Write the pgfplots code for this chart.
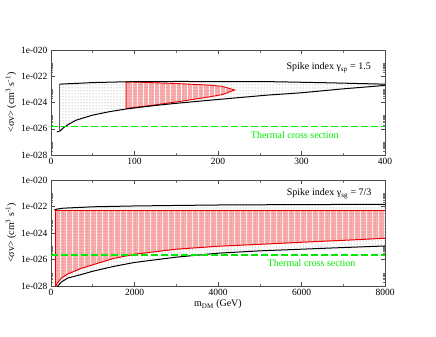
\documentclass[border=0pt]{standalone}
\usepackage{fontspec}
\setmainfont{Liberation Serif}
\usepackage{pgfplots}
\pgfplotsset{compat=1.18}
\usetikzlibrary{patterns,patterns.meta}
\definecolor{thermal}{RGB}{0,235,0}
\definecolor{pinkfill}{RGB}{255,172,172}
\definecolor{redline}{RGB}{235,0,0}

\pgfplotsset{
    tick align=inside, tick pos=both,
    major tick length=4pt, minor tick length=2.5pt,
    every tick/.style={black!70, line width=0.5pt},
    every minor tick/.append style={black!55},
    axis line style={black!70, line width=0.6pt},
    ticklabel style={font=\fontsize{9.5}{10}\selectfont},
    label style={font=\fontsize{10}{11}\selectfont},
    /pgf/number format/1000 sep={},
}

\begin{document}
\begin{tikzpicture}
\path[use as bounding box] (0,-337pt) rectangle (436pt,0);

% upper panel
\begin{axis}[anchor=south west, at={(51pt,-155pt)}, scale only axis, width=334pt, height=105pt,
    ymode=log, ymin=1e-28, ymax=1e-20,
    ytick={1e-28,1e-26,1e-24,1e-22,1e-20},
    yticklabels={1e-028,1e-026,1e-024,1e-022,1e-020},
    minor ytick={2e-28,3e-28,4e-28,5e-28,6e-28,7e-28,8e-28,9e-28,1e-27,
                 2e-26,3e-26,4e-26,5e-26,6e-26,7e-26,8e-26,9e-26,1e-25,
                 2e-24,3e-24,4e-24,5e-24,6e-24,7e-24,8e-24,9e-24,1e-23,
                 2e-22,3e-22,4e-22,5e-22,6e-22,7e-22,8e-22,9e-22,1e-21},
    xmin=0, xmax=400, xtick={0,100,200,300,400}, minor xtick={50,150,250,350},
    xticklabels={0,100,200,300,400},
    ylabel={<σv> (cm\textsuperscript{3} s\textsuperscript{-1})},
    ylabel style={yshift=-2pt}]
\addplot[draw=none, fill=pinkfill, postaction={pattern={Lines[angle=90, distance=5.5pt, line width=0.8pt]}, pattern color=white}]
  coordinates {(90,3.5e-25)(120,6e-25)(150,1.1e-24)(190,2.7e-24)(205,4e-24)(220,9e-24)
               (205,1.7e-23)(190,2.1e-23)(150,2.8e-23)(90,3.8e-23)} -- cycle;
\addplot[draw=none, pattern=dots, pattern color=black!45]
  coordinates {(10,6e-27)(15,1.2e-26)(20,2e-26)(30,4.5e-26)(50,1.1e-25)(70,2e-25)(90,3.2e-25)
               (120,5.5e-25)(150,8.7e-25)(200,1.7e-24)(260,3.7e-24)(300,5.5e-24)(350,1.1e-23)(400,2e-23)
               (400,2.5e-23)(330,3.2e-23)(260,3.9e-23)(150,4e-23)(90,3.8e-23)(50,3.3e-23)(10,2.5e-23)} -- cycle;
\addplot[redline, line width=0.9pt]
  coordinates {(90,3.5e-25)(120,6e-25)(150,1.1e-24)(190,2.7e-24)(205,4e-24)(220,9e-24)
               (205,1.7e-23)(190,2.1e-23)(150,2.8e-23)(90,3.8e-23)} -- cycle;
\addplot[black, line width=1pt]
  coordinates {(7,6e-27)(10,6e-27)(15,1.2e-26)(20,2e-26)(30,4.5e-26)(50,1.1e-25)(70,2e-25)(90,3.2e-25)
               (120,5.5e-25)(150,8.7e-25)(200,1.7e-24)(260,3.7e-24)(300,5.5e-24)(350,1.1e-23)(400,2e-23)};
\addplot[black, line width=1pt]
  coordinates {(10,2.5e-23)(50,3.3e-23)(90,3.8e-23)(150,4e-23)(260,3.9e-23)(330,3.2e-23)(400,2.5e-23)};
\addplot[black!60, line width=1.3pt] coordinates {(10,6e-27)(10,2.5e-23)};
\addplot[thermal, line width=1.4pt, dash pattern=on 7pt off 3pt] coordinates {(0,1.5e-26)(400,1.5e-26)};
\node[anchor=east, font=\fontsize{10}{11}\selectfont] at (rel axis cs:0.968,0.83)
  {Spike index γ\textsubscript{sp} = 1.5};
\node[thermal, font=\fontsize{10}{11}\selectfont] at (rel axis cs:0.73,0.19) {Thermal cross section};
\end{axis}

% lower panel
\begin{axis}[anchor=south west, at={(51pt,-286pt)}, scale only axis, width=334pt, height=106pt,
    ymode=log, ymin=1e-28, ymax=1e-20,
    ytick={1e-28,1e-26,1e-24,1e-22,1e-20},
    yticklabels={1e-028,1e-026,1e-024,1e-022,1e-020},
    minor ytick={2e-28,3e-28,4e-28,5e-28,6e-28,7e-28,8e-28,9e-28,1e-27,
                 2e-26,3e-26,4e-26,5e-26,6e-26,7e-26,8e-26,9e-26,1e-25,
                 2e-24,3e-24,4e-24,5e-24,6e-24,7e-24,8e-24,9e-24,1e-23,
                 2e-22,3e-22,4e-22,5e-22,6e-22,7e-22,8e-22,9e-22,1e-21},
    xmin=0, xmax=8000, xtick={0,2000,4000,6000,8000}, minor xtick={1000,3000,5000,7000},
    xticklabels={0,2000,4000,6000,8000},
    ylabel={<σv> (cm\textsuperscript{3} s\textsuperscript{-1})},
    ylabel style={yshift=-2pt},
    xlabel={m\textsubscript{DM} (GeV)}, xlabel style={yshift=3pt}]
\addplot[draw=none, fill=pinkfill, postaction={pattern={Lines[angle=90, distance=6pt, line width=0.8pt]}, pattern color=white}]
  coordinates {(100,8e-29)(150,1.6e-28)(250,4e-28)(400,8e-28)(700,2e-27)(1000,4e-27)(1500,1.2e-26)
               (2000,2.5e-26)(3000,6e-26)(4000,1e-25)(5000,1.4e-25)(6000,2e-25)(7000,2.8e-25)(8000,4e-25)
               (8000,5e-23)(100,5e-23)} -- cycle;
\addplot[draw=none, pattern=dots, pattern color=black!50]
  coordinates {(150,9e-29)(250,2e-28)(400,4e-28)(700,7e-28)(1000,1.3e-27)(1500,3e-27)(2000,6e-27)
               (3000,1.5e-26)(4000,3e-26)(5000,4.5e-26)(6000,6e-26)(7000,8e-26)(8000,1.05e-25)
               (8000,1.45e-22)(6000,1.4e-22)(4000,1.3e-22)(3000,1.2e-22)(2000,1.1e-22)(1000,9.5e-23)
               (500,8e-23)(300,7.5e-23)(150,6.5e-23)(80,5.5e-23)(80,9e-29)} -- cycle;
\addplot[redline, line width=1pt]
  coordinates {(100,8e-29)(150,1.6e-28)(250,4e-28)(400,8e-28)(700,2e-27)(1000,4e-27)(1500,1.2e-26)
               (2000,2.5e-26)(3000,6e-26)(4000,1e-25)(5000,1.4e-25)(6000,2e-25)(7000,2.8e-25)(8000,4e-25)};
\addplot[redline, line width=1pt] coordinates {(100,8e-29)(100,5e-23)(8000,5e-23)};
\addplot[black, line width=1pt]
  coordinates {(150,9e-29)(250,2e-28)(400,4e-28)(700,7e-28)(1000,1.3e-27)(1500,3e-27)(2000,6e-27)
               (3000,1.5e-26)(4000,3e-26)(5000,4.5e-26)(6000,6e-26)(7000,8e-26)(8000,1.05e-25)};
\addplot[black, line width=1pt]
  coordinates {(80,5.5e-23)(150,6.5e-23)(300,7.5e-23)(500,8e-23)(1000,9.5e-23)(2000,1.1e-22)
               (3000,1.2e-22)(4000,1.3e-22)(6000,1.4e-22)(8000,1.45e-22)};
\addplot[thermal, line width=1.4pt, dash pattern=on 7pt off 3pt] coordinates {(0,2.2e-26)(8000,2.2e-26)};
\node[anchor=east, font=\fontsize{10}{11}\selectfont] at (rel axis cs:0.97,0.868)
  {Spike index γ\textsubscript{sg} = 7/3};
\node[thermal, font=\fontsize{10}{11}\selectfont] at (rel axis cs:0.78,0.217) {Thermal cross section};
\end{axis}
\end{tikzpicture}
\end{document}
